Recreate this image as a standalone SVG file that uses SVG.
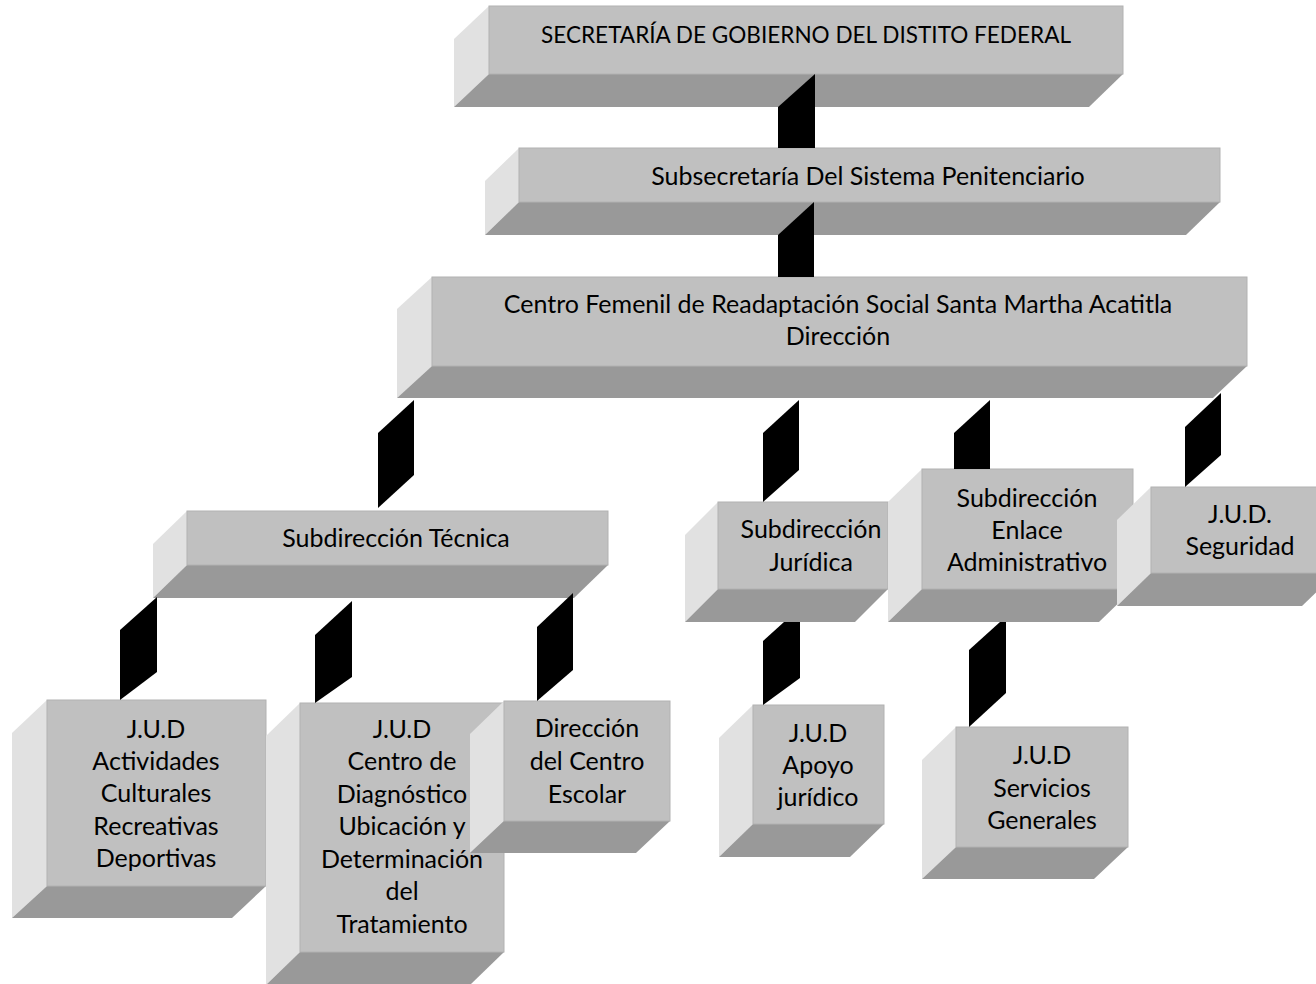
<svg xmlns="http://www.w3.org/2000/svg" width="1316" height="984" viewBox="0 0 1316 984">
<style>
.bg{fill:#ffffff}
.front{fill:#c0c0c0;stroke:#b2b2b2;stroke-width:1}
.left{fill:#e1e1e1}
.bottom{fill:#999999}
.conn{fill:#000000}
text{font-family:Lato,"Liberation Sans",sans-serif;font-size:25px;fill:#000000;text-anchor:middle}
</style>
<rect class="bg" x="0" y="0" width="1316" height="984"/>

<g id="node-secretaria">
<polygon class="left" points="489,6 489,74 454,107 454,39"/>
<polygon class="bottom" points="489,74 1123,74 1089,107 454,107"/>
<rect class="front" x="489" y="6" width="634" height="68"/>
<text x="806" y="43" style="font-size:24px" textLength="530" lengthAdjust="spacingAndGlyphs">SECRETARÍA DE GOBIERNO DEL DISTITO FEDERAL</text>
</g>

<g id="node-subsecretaria">
<polygon class="left" points="519,148 519,202 485,235 485,181"/>
<polygon class="bottom" points="519,202 1220,202 1186,235 485,235"/>
<rect class="front" x="519" y="148" width="701" height="54"/>
<text x="868" y="185">Subsecretaría Del Sistema Penitenciario</text>
</g>

<g id="node-centro">
<polygon class="left" points="432,277 432,366 397,398 397,309"/>
<polygon class="bottom" points="432,366 1247,366 1213,398 397,398"/>
<rect class="front" x="432" y="277" width="815" height="89"/>
<text x="838" y="313">Centro Femenil de Readaptación Social Santa Martha Acatitla</text>
<text x="838" y="345">Dirección</text>
</g>

<g id="node-tecnica">
<polygon class="left" points="187,511 187,565 153,598 153,544"/>
<polygon class="bottom" points="187,565 608,565 574,598 153,598"/>
<rect class="front" x="187" y="511" width="421" height="54"/>
<text x="396" y="547">Subdirección Técnica</text>
</g>

<g id="node-juridica">
<polygon class="left" points="718,502 718,589 685,622 685,535"/>
<polygon class="bottom" points="718,589 888,589 855,622 685,622"/>
<rect class="front" x="718" y="502" width="170" height="87"/>
<text x="811" y="538">Subdirección</text>
<text x="811" y="571">Jurídica</text>
</g>

<g id="node-enlace">
<polygon class="left" points="922,469 922,589 888,622 888,502"/>
<polygon class="bottom" points="922,589 1133,589 1099,622 888,622"/>
<rect class="front" x="922" y="469" width="211" height="120"/>
<text x="1027" y="507">Subdirección</text>
<text x="1027" y="539">Enlace</text>
<text x="1027" y="571">Administrativo</text>
</g>

<g id="node-seguridad">
<polygon class="left" points="1151,487 1151,573 1117,606 1117,520"/>
<polygon class="bottom" points="1151,573 1336,573 1302,606 1117,606"/>
<rect class="front" x="1151" y="487" width="185" height="86"/>
<text x="1240" y="523">J.U.D.</text>
<text x="1240" y="555">Seguridad</text>
</g>

<g id="node-actividades">
<polygon class="left" points="47,700 47,886 12,918 12,733"/>
<polygon class="bottom" points="47,886 266,886 232,918 12,918"/>
<rect class="front" x="47" y="700" width="219" height="186"/>
<text x="156" y="738">J.U.D</text>
<text x="156" y="770">Actividades</text>
<text x="156" y="802">Culturales</text>
<text x="156" y="835">Recreativas</text>
<text x="156" y="867">Deportivas</text>
</g>

<g id="node-diagnostico">
<polygon class="left" points="300,703 300,952 266,985 266,736"/>
<polygon class="bottom" points="300,952 504,952 470,985 266,985"/>
<rect class="front" x="300" y="703" width="204" height="249"/>
<text x="402" y="738">J.U.D</text>
<text x="402" y="770">Centro de</text>
<text x="402" y="803">Diagnóstico</text>
<text x="402" y="835">Ubicación y</text>
<text x="402" y="868">Determinación</text>
<text x="402" y="900">del</text>
<text x="402" y="933">Tratamiento</text>
</g>

<g id="node-escolar">
<polygon class="left" points="504,701 504,821 470,853 470,734"/>
<polygon class="bottom" points="504,821 670,821 636,853 470,853"/>
<rect class="front" x="504" y="701" width="166" height="120"/>
<text x="587" y="737">Dirección</text>
<text x="587" y="770">del Centro</text>
<text x="587" y="803">Escolar</text>
</g>

<g id="node-apoyo">
<polygon class="left" points="753,705 753,824 719,857 719,738"/>
<polygon class="bottom" points="753,824 884,824 850,857 719,857"/>
<rect class="front" x="753" y="705" width="131" height="119"/>
<text x="818" y="742">J.U.D</text>
<text x="818" y="774">Apoyo</text>
<text x="818" y="806">jurídico</text>
</g>

<g id="node-servicios">
<polygon class="left" points="956,727 956,847 922,879 922,760"/>
<polygon class="bottom" points="956,847 1128,847 1094,879 922,879"/>
<rect class="front" x="956" y="727" width="172" height="120"/>
<text x="1042" y="764">J.U.D</text>
<text x="1042" y="797">Servicios</text>
<text x="1042" y="829">Generales</text>
</g>

<g id="connectors">
<polygon class="conn" points="815,74 815,148 778,148 778,107"/>
<polygon class="conn" points="814,202 814,277 778,277 778,235"/>
<polygon class="conn" points="414,400 414,475 378,508 378,433"/>
<polygon class="conn" points="799,400 799,470 763,502 763,433"/>
<polygon class="conn" points="990,400 990,469 954,469 954,433"/>
<polygon class="conn" points="1221,393 1221,455 1185,487 1185,427"/>
<polygon class="conn" points="157,597 157,672 120,700 120,630"/>
<polygon class="conn" points="352,601 352,677 315,703 315,635"/>
<polygon class="conn" points="573,593 573,670 537,701 537,627"/>
<polygon class="conn" points="784,622 800,622 800,678 763,705 763,641"/>
<polygon class="conn" points="1000,622 1006,622 1006,693 969,727 969,650"/>
</g>
</svg>
